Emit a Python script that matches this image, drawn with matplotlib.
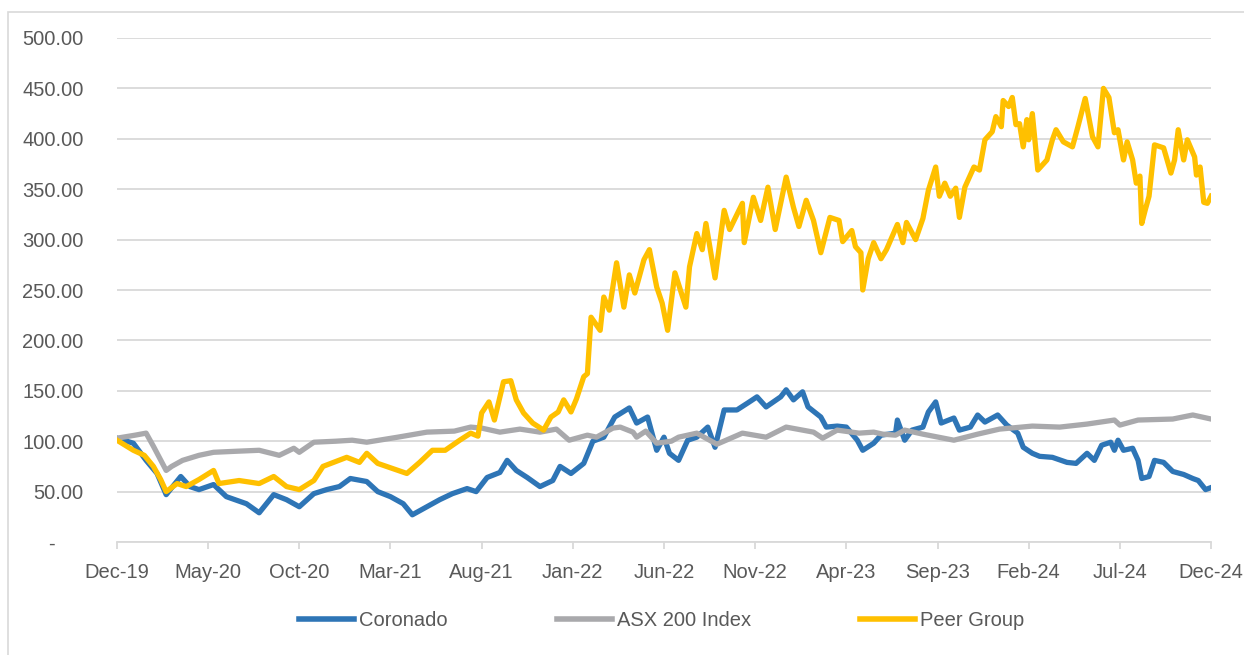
# ===================================================== Importing libraries ===============================================
import matplotlib
matplotlib.use("Agg")
import matplotlib.pyplot as plt
from matplotlib.patches import Rectangle

# ===================================================== Data (months since Dec-19, index values) ===========================
tick_labels = ["Dec-19", "May-20", "Oct-20", "Mar-21", "Aug-21", "Jan-22", "Jun-22",
               "Nov-22", "Apr-23", "Sep-23", "Feb-24", "Jul-24", "Dec-24"]

coronado_m = [0, 0.9, 1.6, 2.2, 2.7, 3.5, 4.0, 4.5, 5.3, 6.0, 7.1, 7.8, 8.6, 9.3, 10.0, 10.8, 11.5, 12.2,
              12.8, 13.7, 14.3, 15.0, 15.7, 16.2, 17.0, 17.7, 18.4, 19.2, 19.7, 20.3, 21.0, 21.4, 21.9,
              22.5, 23.2, 23.9, 24.3, 24.9, 25.6, 26.1, 26.7, 27.3, 28.1, 28.5, 29.1, 29.6, 30.0, 30.3,
              30.8, 31.3, 31.8, 32.4, 32.8, 33.3, 34.0, 34.6, 35.1, 35.6, 36.4, 36.7, 37.1, 37.6, 37.9,
              38.6, 38.9, 39.5, 40.0, 40.6, 40.9, 41.5, 41.9, 42.7, 42.8, 43.0, 43.2, 43.6, 44.2, 44.5,
              44.9, 45.2, 45.9, 46.2, 46.8, 47.2, 47.6, 48.3, 48.8, 49.4, 49.7, 50.2, 50.6, 51.3, 52.1,
              52.6, 53.2, 53.6, 54.0, 54.5, 54.7, 54.9, 55.2, 55.7, 56.0, 56.2, 56.6, 56.9, 57.4, 57.9,
              58.5, 59.0, 59.3, 59.7, 60.0]
coronado_v = [103, 98, 81, 68, 47, 65, 55, 52, 57, 45, 38, 29, 47, 42, 35, 48, 52, 55,
              63, 60, 50, 45, 38, 27, 35, 42, 48, 53, 50, 64, 69, 81, 71,
              64, 55, 61, 75, 68, 78, 100, 104, 124, 133, 118, 124, 91, 104, 88,
              81, 101, 104, 114, 94, 131, 131, 138, 144, 134, 144, 151, 141, 149, 134,
              124, 114, 115, 114, 101, 91, 98, 106, 108, 121, 111, 101, 111, 114, 129,
              139, 118, 123, 111, 114, 126, 119, 126, 116, 108, 94, 88, 85, 84, 79,
              78, 88, 81, 96, 99, 91, 101, 91, 93, 81, 63, 65, 81, 79, 70,
              67, 63, 61, 52, 54]

asx_m = [0, 1.0, 1.6, 2.0, 2.7, 3.0, 3.6, 4.5, 5.3, 6.5, 7.8, 8.9, 9.7, 10.0, 10.8, 12.0, 12.9, 13.7,
         15.4, 17.0, 18.5, 19.4, 20.0, 21.0, 22.1, 23.2, 24.1, 24.8, 25.8, 26.3, 27.2, 27.6, 28.3,
         28.5, 29.0, 29.6, 30.4, 30.8, 31.8, 32.9, 34.3, 35.6, 36.7, 38.2, 38.7, 39.5, 40.7, 41.5,
         42.0, 42.7, 43.2, 44.2, 45.9, 47.2, 48.4, 50.2, 51.7, 53.2, 54.7, 55.0, 56.0, 57.9, 59.0, 60.0]
asx_v = [103, 106, 108, 95, 71, 75, 81, 86, 89, 90, 91, 86, 93, 89, 99, 100, 101, 99,
         104, 109, 110, 114, 113, 109, 112, 109, 112, 101, 106, 104, 113, 114, 109,
         104, 110, 98, 100, 104, 108, 97, 108, 104, 114, 109, 103, 111, 108, 109,
         107, 106, 111, 107, 101, 107, 112, 115, 114, 117, 121, 116, 121, 122, 126, 122]

peer_m = [0, 0.9, 1.5, 2.0, 2.4, 2.7, 3.3, 3.8, 4.5, 5.3, 5.6, 6.7, 7.8, 8.6, 9.3, 10.0, 10.8, 11.3,
          12.6, 13.3, 13.7, 14.3, 15.1, 15.9, 16.6, 17.3, 18.0, 18.8, 19.4, 19.8, 20.0, 20.4, 20.7,
          21.2, 21.6, 21.9, 22.3, 22.8, 23.4, 23.8, 24.2, 24.5, 24.9, 25.2, 25.6, 25.8, 26.0, 26.5,
          26.7, 27.0, 27.4, 27.8, 28.1, 28.4, 28.9, 29.2, 29.6, 29.9, 30.2, 30.6, 31.2, 31.4, 31.8,
          32.1, 32.3, 32.8, 33.3, 33.6, 34.3, 34.4, 34.9, 35.3, 35.7, 36.1, 36.7, 37.1, 37.4, 37.8,
          38.2, 38.6, 39.1, 39.6, 39.8, 40.3, 40.5, 40.8, 40.9, 41.2, 41.5, 41.9, 42.2, 42.8, 43.1,
          43.3, 43.8, 44.2, 44.5, 44.9, 45.1, 45.4, 45.7, 46.0, 46.2, 46.5, 47.0, 47.3, 47.6, 48.0,
          48.2, 48.5, 48.6, 48.9, 49.1, 49.3, 49.5, 49.7, 49.9, 50.0, 50.2, 50.5, 51.0, 51.3, 51.5,
          51.9, 52.4, 52.7, 53.1, 53.5, 53.8, 54.1, 54.4, 54.7, 54.9, 55.2, 55.4, 55.7, 55.9, 56.1,
          56.2, 56.4, 56.6, 56.9, 57.4, 57.8, 58.0, 58.2, 58.5, 58.7, 59.1, 59.2, 59.4, 59.6, 59.8, 60.0]
peer_v = [101, 91, 86, 75, 62, 50, 58, 55, 62, 71, 58, 61, 58, 65, 55, 52, 61, 75,
          84, 79, 88, 78, 73, 68, 79, 91, 91, 101, 108, 105, 128, 139, 121,
          159, 160, 141, 128, 118, 111, 124, 129, 141, 129, 142, 164, 167, 223, 210,
          243, 230, 277, 233, 265, 247, 280, 290, 253, 237, 210, 267, 233, 273, 306,
          290, 316, 262, 329, 310, 336, 297, 342, 319, 352, 310, 362, 332, 313, 339,
          319, 287, 322, 319, 298, 309, 293, 287, 250, 281, 297, 281, 290, 315, 297,
          317, 300, 321, 349, 372, 343, 356, 343, 351, 322, 352, 372, 369, 399, 407,
          422, 412, 438, 432, 441, 414, 415, 392, 419, 399, 425, 369, 379, 399, 409,
          397, 392, 412, 440, 402, 392, 450, 441, 406, 409, 379, 397, 379, 356, 363,
          316, 330, 343, 394, 391, 366, 379, 409, 379, 399, 382, 364, 372, 337, 336, 343]

# ===================================================== Figure ==============================================================
plt.rcParams['font.family'] = ['Liberation Sans', 'DejaVu Sans']
text_col = "#595959"
grid_col = "#D9D9D9"

fig = plt.figure(figsize=(12.44, 6.55), dpi=100)
ax = fig.add_axes([0.094, 0.1725, 0.8795, 0.7695])

# outer chart frame (only left and top edges are visible)
fig.patches.append(Rectangle((8 / 1244, -0.05), 1.2, 1 - 12 / 655 + 0.05, transform=fig.transFigure,
                             fill=False, edgecolor=grid_col, linewidth=1.2))

ax.plot(coronado_m, coronado_v, color="#2E75B6", lw=3.8, label="Coronado", solid_joinstyle="round")
ax.plot(asx_m, asx_v, color="#A9A9AC", lw=3.8, label="ASX 200 Index", solid_joinstyle="round")
ax.plot(peer_m, peer_v, color="#FFC000", lw=3.8, label="Peer Group", solid_joinstyle="round")

ax.set_xlim(0, 60)
ax.set_ylim(0, 500)
ax.set_xticks(range(0, 61, 5))
ax.set_xticklabels(tick_labels)
yt = list(range(0, 501, 50))
ax.set_yticks(yt)
ax.set_yticklabels(["-     "] + ["%.2f" % v for v in yt[1:]])

ax.grid(axis="y", color=grid_col, lw=1.3)
ax.set_axisbelow(True)
for s in ["top", "right", "left"]:
    ax.spines[s].set_visible(False)
ax.spines["bottom"].set_color(grid_col)
ax.spines["bottom"].set_linewidth(1.3)
ax.tick_params(axis="x", colors=grid_col, length=5, width=1.3, pad=10, labelcolor=text_col, labelsize=14.5)
ax.tick_params(axis="y", length=0, pad=24, labelcolor=text_col, labelsize=14.5)

leg = fig.legend(loc="center", bbox_to_anchor=(0.532, 0.052), ncol=3, frameon=False, fontsize=14.5,
                 handlelength=2.75, handletextpad=0.25, columnspacing=5.4, labelcolor=text_col)
for line in leg.get_lines():
    line.set_linewidth(4)

fig.savefig("out.png", dpi=100)
